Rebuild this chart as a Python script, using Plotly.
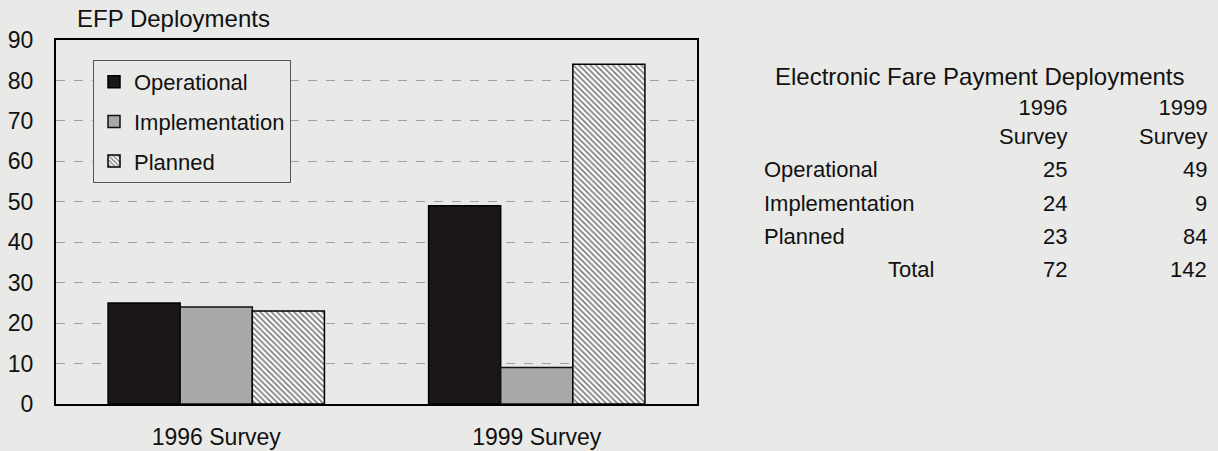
import plotly.graph_objects as go

categories = ["1996 Survey", "1999 Survey"]
operational = [25, 49]
implementation = [24, 9]
planned = [23, 84]
totals = [72, 142]
series_names = ["Operational", "Implementation", "Planned"]
y_ticks = [0, 10, 20, 30, 40, 50, 60, 70, 80, 90]

W, H = 1218, 451
L, R, T, B = 56, 697, 40, 404  # plot area in pixels
BG = "#e9e9e7"
FONT = "Liberation Sans, Arial, sans-serif"
FS = 23

def px(x):
    return (x - L) / (R - L)

def py(y):
    return (B - y) / (B - T)

fig = go.Figure()
fig.add_trace(go.Bar(
    x=categories, y=operational, name=series_names[0], legendgroup="a",
    marker=dict(color="#1c1717", line=dict(color="#000", width=1.5)),
))
fig.add_trace(go.Bar(
    x=categories, y=implementation, name=series_names[1], legendgroup="b",
    marker=dict(color="#a9a9a9", line=dict(color="#111", width=1.5)),
))
fig.add_trace(go.Bar(
    x=categories, y=planned, name=series_names[2], legendgroup="c",
    marker=dict(color="#ffffff", line=dict(color="#000", width=1.5),
                pattern=dict(shape="\\", fgcolor="#000", bgcolor="#fff",
                             size=4, solidity=0.45)),
))

fig.update_layout(
    width=W, height=H,
    margin=dict(l=L, r=W - R, t=T, b=H - B, pad=0, autoexpand=False),
    paper_bgcolor=BG, plot_bgcolor=BG,
    font=dict(family=FONT, color="#111", size=FS),
    barmode="group", bargap=0.325, bargroupgap=0,
    showlegend=True,
    legend=dict(
        x=px(93), y=py(60), xanchor="left", yanchor="top",
        bgcolor=BG, bordercolor="#555", borderwidth=1,
        font=dict(size=22, family=FONT, color="#111"),
        tracegroupgap=8, itemwidth=30,
    ),
    xaxis=dict(
        showline=True, linecolor="#000", linewidth=2, mirror=True,
        ticks="", tickfont=dict(size=23), ticklabelstandoff=11,
        automargin=False,
    ),
    yaxis=dict(
        range=[0, 90], tickvals=y_ticks, showline=True, linecolor="#000",
        linewidth=2, mirror=True, showgrid=True, gridcolor="#a0a0a0",
        griddash="dash", gridwidth=1, ticks="", tickfont=dict(size=23),
        ticklabelstandoff=16, zeroline=False, automargin=False,
    ),
)

TS = 22  # table font size
ann = []
ann.append(dict(text="EFP Deployments", x=px(75), y=py(19), xanchor="left",
                yanchor="middle", font=dict(size=24)))
ann.append(dict(text="Electronic Fare Payment Deployments", x=px(980), y=py(76),
                xanchor="center", yanchor="middle", font=dict(size=24)))
col_x = [1069, 1209]
for i, c in enumerate(categories):
    yr, sv = c.split(" ")
    ann.append(dict(text=yr + "<br>" + sv, x=px(col_x[i]), y=py(122), xanchor="right",
                    yanchor="middle", align="right", font=dict(size=TS)))
rows = [(series_names[0], operational), (series_names[1], implementation), (series_names[2], planned)]
row_y = [170, 203, 236]
for (name, vals), ry in zip(rows, row_y):
    ann.append(dict(text=name, x=px(762), y=py(ry), xanchor="left", yanchor="middle", font=dict(size=TS)))
    for i in range(2):
        ann.append(dict(text=str(vals[i]), x=px(col_x[i]), y=py(ry), xanchor="right", yanchor="middle", font=dict(size=TS)))
ann.append(dict(text="Total", x=px(936), y=py(269), xanchor="right", yanchor="middle", font=dict(size=TS)))
for i in range(2):
    ann.append(dict(text=str(totals[i]), x=px(col_x[i]), y=py(269), xanchor="right", yanchor="middle", font=dict(size=TS)))
for a in ann:
    a.update(xref="paper", yref="paper", showarrow=False)
    a["font"].update(family=FONT, color="#111")
fig.update_layout(annotations=ann)

fig.write_html(
    "out.html",
    config={"displayModeBar": False},
    post_script="document.body.style.margin='0';document.body.style.background='%s';" % BG,
)
